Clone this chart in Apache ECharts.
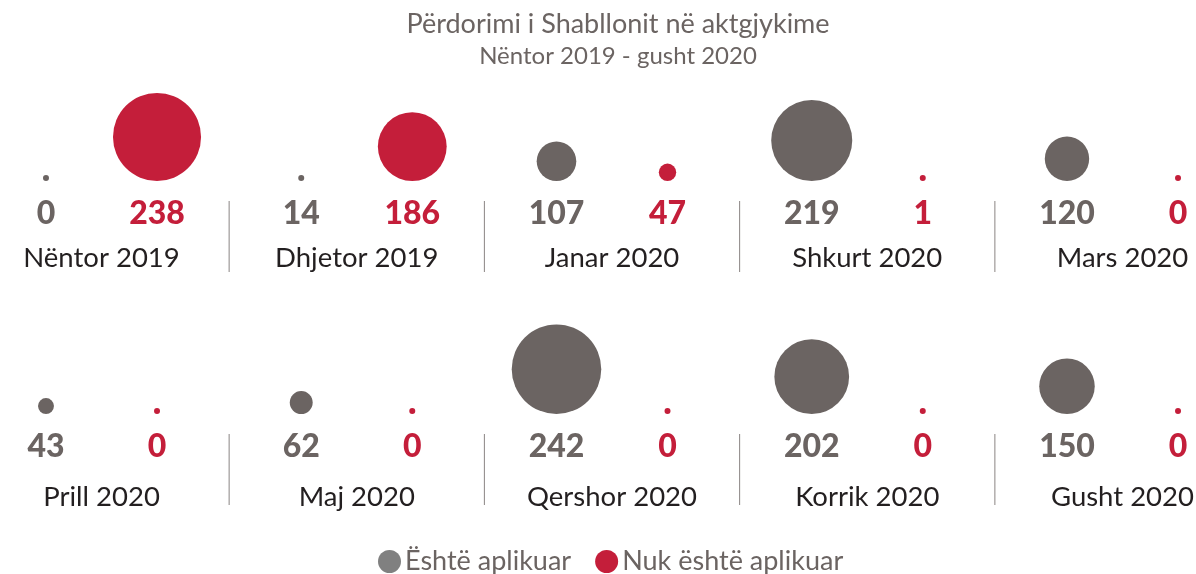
<!DOCTYPE html>
<html>
<head>
<meta charset="utf-8">
<script src="https://cdn.jsdelivr.net/npm/echarts@6/dist/echarts.min.js"></script>
<style>
  html, body { margin: 0; padding: 0; background: #fff; }
  #main { width: 1196px; height: 574px; }
</style>
</head>
<body>
<div id="main"></div>
<script>
var months = ['Nëntor 2019', 'Dhjetor 2019', 'Janar 2020', 'Shkurt 2020', 'Mars 2020',
  'Prill 2020', 'Maj 2020', 'Qershor 2020', 'Korrik 2020', 'Gusht 2020']
var applied = [0, 14, 107, 219, 120, 43, 62, 242, 202, 150]
var notApplied = [238, 186, 47, 1, 0, 0, 0, 0, 0, 0]
var seriesNames = ['Është aplikuar', 'Nuk është aplikuar']

var GRAY = '#6b6462'
var RED = '#c41e3a'
var FONT = 'Lato'
var PER_ROW = 5
var SHIFT = 0.2175 // horizontal shift of each bubble from the month centre

function pos(k) {
  return [k % PER_ROW, Math.floor(k / PER_ROW)]
}

var grayData = applied.map((v, k) => [pos(k)[0] - SHIFT, pos(k)[1], v])
var redData = notApplied.map((v, k) => [pos(k)[0] + SHIFT, pos(k)[1], v])
// month names sit a little lower on the second row
var monthData = months.map((m, k) => ({
  value: [pos(k)[0], pos(k)[1], m],
  label: { offset: [0, pos(k)[1] ? 83 : 77] }
}))
var sepData = []
for (var r = 0; r < 2; r++) {
  for (var c = 0; c < PER_ROW - 1; c++) sepData.push([c + 0.5, r])
}

function bubbleSize(val) {
  return Math.max(6, val[2] * 0.37)
}

function numberLabels(name, data, color) {
  return {
    name: name + ' n',
    type: 'scatter',
    data: data,
    symbolSize: 0,
    clip: false,
    silent: true,
    itemStyle: { opacity: 1 },
    label: {
      show: true,
      position: 'inside',
      offset: [0, 33],
      formatter: p => p.value[2],
      fontFamily: FONT,
      fontWeight: 900,
      fontSize: 32,
      color: color
    }
  }
}

var myChart = echarts.init(document.getElementById('main'))
var option = {
  animation: false,
  title: {
    text: 'Përdorimi i Shabllonit në aktgjykime',
    subtext: 'Nëntor 2019 - gusht 2020',
    left: 613,
    textAlign: 'center',
    top: 6,
    itemGap: 6,
    textStyle: { fontFamily: FONT, fontWeight: 'normal', fontSize: 27, color: GRAY },
    subtextStyle: { fontFamily: FONT, fontSize: 24, color: GRAY }
  },
  legend: {
    left: 373,
    top: 543,
    icon: 'circle',
    itemWidth: 23,
    itemHeight: 23,
    itemGap: 24,
    textStyle: { fontFamily: FONT, fontSize: 27, color: GRAY, padding: [0, 0, 0, -1] },
    data: [
      { name: seriesNames[0], itemStyle: { color: '#808080' } },
      { name: seriesNames[1] }
    ]
  },
  grid: { left: 101.5, right: 73.5, top: 181, bottom: 160 },
  xAxis: { type: 'value', min: 0, max: 4, show: false },
  yAxis: { type: 'value', min: 0, max: 1, inverse: true, show: false },
  series: [
    {
      name: seriesNames[0],
      type: 'scatter',
      data: grayData,
      symbolSize: bubbleSize,
      symbolOffset: [0, '-50%'],
      clip: false,
      itemStyle: { color: GRAY, opacity: 1 }
    },
    {
      name: seriesNames[1],
      type: 'scatter',
      data: redData,
      symbolSize: bubbleSize,
      symbolOffset: [0, '-50%'],
      clip: false,
      itemStyle: { color: RED, opacity: 1 }
    },
    numberLabels('a', grayData, GRAY),
    numberLabels('b', redData, RED),
    {
      name: 'months',
      type: 'scatter',
      data: monthData,
      symbolSize: 0,
      clip: false,
      silent: true,
      itemStyle: { opacity: 1 },
      label: {
        show: true,
        position: 'inside',
        formatter: p => p.value[2],
        fontFamily: FONT,
        fontSize: 27.5,
        color: '#231f20'
      }
    },
    {
      name: 'sep',
      type: 'custom',
      data: sepData,
      silent: true,
      renderItem: function (params, api) {
        var p = api.coord([api.value(0), api.value(1)])
        return {
          type: 'line',
          shape: { x1: p[0], y1: p[1] + 20, x2: p[0], y2: p[1] + 91 },
          style: { stroke: '#8a8483', lineWidth: 1 }
        }
      }
    }
  ]
}
myChart.setOption(option)
</script>
</body>
</html>
